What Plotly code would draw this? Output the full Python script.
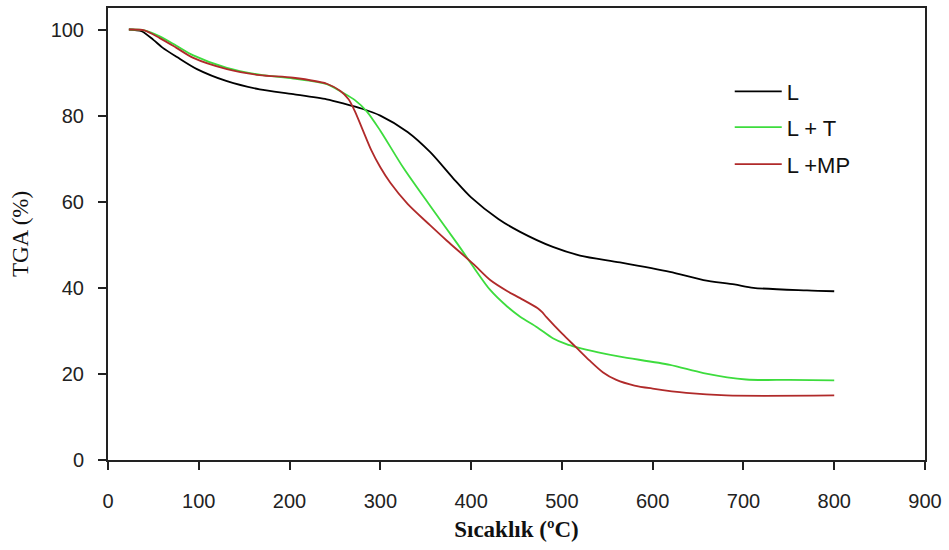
import plotly.graph_objects as go

# ---- data ----
x_L = [23, 37, 50, 60, 76, 98, 131, 167, 204, 241, 260, 280, 300, 330, 355, 380, 400, 430, 454, 490, 520, 564, 619, 656, 690, 711, 770, 800]
y_L = [100, 99.6, 97.6, 95.8, 93.6, 90.8, 88, 86.1, 85, 83.8, 82.8, 81.6, 80.0, 76.2, 71.5, 65.5, 61, 56, 53, 49.5, 47.5, 45.9, 43.7, 41.8, 40.8, 40, 39.4, 39.2]

x_LT = [23, 40, 57, 75, 94, 131, 167, 204, 241, 259, 272, 285, 300, 325, 355, 385, 402, 421, 440, 454, 473, 490, 505, 516, 540, 564, 619, 656, 703, 750, 800]
y_LT = [100, 99.8, 98.4, 96.3, 94, 91.1, 89.5, 88.6, 87.3, 85.3, 83.6, 81, 76.5, 68, 59, 50.2, 45, 39.5, 35.6, 33.3, 30.8, 28.3, 26.9, 26.2, 25.0, 24.0, 22.1, 20.2, 18.7, 18.6, 18.5]

x_LMP = [23, 40, 57, 75, 94, 131, 167, 204, 241, 256, 265, 272, 280, 290, 300, 311, 330, 355, 373, 402, 421, 440, 454, 473, 478, 483, 500, 516, 530, 545, 560, 580, 600, 637, 681, 800]
y_LMP = [100, 99.8, 98, 95.8, 93.4, 90.8, 89.4, 88.8, 87.4, 85.7, 83.8, 81, 77, 72, 68, 64.4, 59.5, 54.5, 51, 45.6, 41.8, 39.2, 37.6, 35.3, 34.4, 33.2, 29.4, 26.1, 23.2, 20.4, 18.6, 17.3, 16.6, 15.6, 15.0, 15.0]

names = ["L", "L + T", "L +MP"]
colors = ["#000000", "#3ddc3d", "#b02a2a"]

x_ticks = [0, 100, 200, 300, 400, 500, 600, 700, 800, 900]
y_ticks = [0, 20, 40, 60, 80, 100]

fig = go.Figure()
series = [(x_L, y_L), (x_LT, y_LT), (x_LMP, y_LMP)]
legends = ["legend", "legend2", "legend3"]
for (xs, ys), nm, col, lg in zip(series, names, colors, legends):
    fig.add_trace(go.Scatter(x=xs, y=ys, mode="lines", name=nm,
                             line=dict(color=col, width=1.8, shape="spline", smoothing=0.8),
                             legend=lg))

leg_common = dict(x=0.761, xanchor="left", yanchor="middle", bgcolor="rgba(0,0,0,0)",
                  borderwidth=0, itemwidth=47,
                  font=dict(family="Liberation Sans, Arial", size=22, color="#111"))
fig.update_layout(
    width=949, height=550,
    margin=dict(l=108, r=24, t=6, b=90),
    paper_bgcolor="white", plot_bgcolor="white",
    showlegend=True,
    legend=dict(y=0.815, **leg_common),
    legend2=dict(y=0.736, **leg_common),
    legend3=dict(y=0.654, **leg_common),
)
fig.update_xaxes(range=[0, 900], tickvals=x_ticks, ticks="outside", ticklen=8, tickwidth=1.5,
                 tickcolor="#222", showline=True, linecolor="#222", linewidth=2, mirror=True,
                 showgrid=False, zeroline=False, ticklabelstandoff=14,
                 tickfont=dict(family="Liberation Sans, Arial", size=20, color="#222"),
                 title=dict(text="<b>Sıcaklık (ºC)</b>", standoff=10,
                            font=dict(family="Liberation Serif, Times New Roman", size=23, color="#111")))
fig.update_yaxes(range=[0, 105], tickvals=y_ticks, ticks="outside", ticklen=8, tickwidth=1.5,
                 tickcolor="#222", showline=True, linecolor="#222", linewidth=2, mirror=True,
                 showgrid=False, zeroline=False, ticklabelstandoff=10,
                 tickfont=dict(family="Liberation Sans, Arial", size=20, color="#222"),
                 title=dict(text="TGA (%)", standoff=16,
                            font=dict(family="Liberation Serif, Times New Roman", size=23, color="#111")))

fig.write_html("out.html")
